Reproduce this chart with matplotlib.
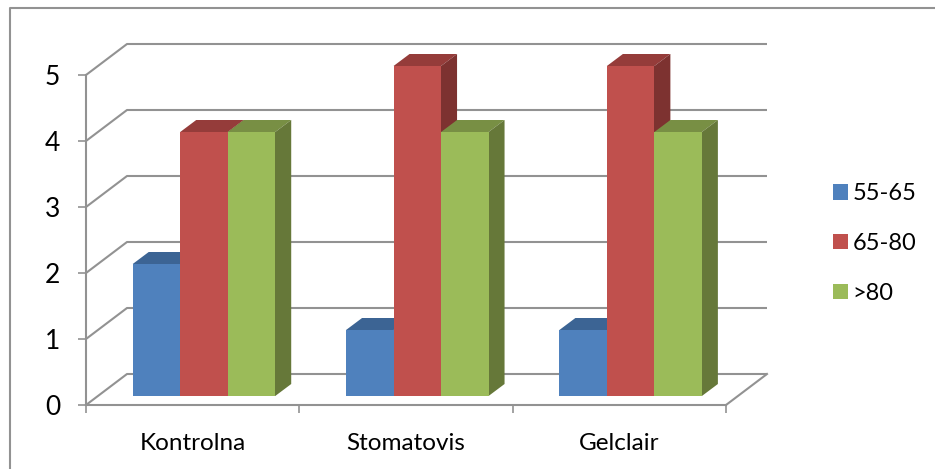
import numpy as np
import matplotlib
matplotlib.use('Agg')
import matplotlib.pyplot as plt
from matplotlib.patches import Patch, Polygon

plt.rcParams['font.family'] = ['Lato', 'DejaVu Sans']

# Datos
categorias = ['Kontrolna', 'Stomatovis', 'Gelclair']
grupos = ['55-65', '65-80', '>80']
v_55_65 = [2, 1, 1]
v_65_80 = [4, 5, 5]
v_mayor_80 = [4, 4, 4]
y_ticks = [0, 1, 2, 3, 4, 5]

W, H = 935, 469
UX = 640 / 3      # pixeles por categoria
UY = 330 / 5      # pixeles por unidad de y

# Colores cara frontal, techo, lateral
colores = [('#4F81BD', '#3C6494', '#32547C'),
           ('#C0504D', '#953C3A', '#7D3230'),
           ('#9BBB59', '#788F44', '#667839')]
color_linea = '#929292'

fig = plt.figure(figsize=(W / 100, H / 100), dpi=100)
ax = fig.add_axes([86 / W, (H - 405) / H, 640 / W, 330 / H])
ax.set_xlim(0, 3)
ax.set_ylim(0, 5)
ax.patch.set_alpha(0)

# Profundidad del piso y de la barra, en unidades de datos
fondo_x, fondo_y = 41 / UX, 31 / UY
prof_x, prof_y = 16 / UX, 12 / UY
base_x, base_y = 11.3 / UX, 9 / UY
ancho = 47.5 / UX
solape = 1 / UX   # las caras laterales entran bajo la frontal

# Rejilla de la pared trasera
for t in y_ticks:
    ax.plot([0, fondo_x, 3 + fondo_x], [t, t + fondo_y, t + fondo_y],
            color=color_linea, lw=1.5, clip_on=False, zorder=1, solid_capstyle='butt')
ax.plot([3, 3 + fondo_x], [0, fondo_y], color=color_linea, lw=1.5, clip_on=False, zorder=1)

# Barras con su falsa profundidad
x = np.arange(3) + 0.5 + base_x
for i, (valores, c) in enumerate(zip([v_55_65, v_65_80, v_mayor_80], colores)):
    xs = x + (i - 1) * ancho
    ax.bar(xs, valores, ancho, bottom=base_y, color=c[0], zorder=3 + i * 2, clip_on=False)
    for xc, v in zip(xs, valores):
        x0, x1 = xc - ancho / 2, xc + ancho / 2
        y0, y1 = base_y, base_y + v
        ax.add_patch(Polygon([(x0, y1), (x1, y1), (x1 + prof_x, y1 + prof_y), (x0 + prof_x, y1 + prof_y)],
                             facecolor=c[1], lw=0, zorder=2 + i * 2, clip_on=False))
        ax.add_patch(Polygon([(x1 - solape, y0), (x1 - solape, y1), (x1, y1), (x1 + prof_x, y1 + prof_y),
                              (x1 + prof_x, y0 + prof_y), (x1, y0)],
                             facecolor=c[2], lw=0, zorder=2 + i * 2, clip_on=False))

# Ejes
for s in ['top', 'right']:
    ax.spines[s].set_visible(False)
for s in ['left', 'bottom']:
    ax.spines[s].set_color(color_linea)
    ax.spines[s].set_linewidth(1.5)
ax.set_yticks(y_ticks)
ax.set_xticks([0, 1, 2, 3])
ax.set_xticks([0.5, 1.5, 2.5], minor=True)
ax.set_xticklabels([])
ax.set_xticklabels(categorias, minor=True)
ax.tick_params(axis='x', which='major', length=6, width=1.2, color=color_linea)
ax.tick_params(axis='x', which='minor', length=0, pad=20.5, labelsize=17.5)
ax.tick_params(axis='y', length=6, width=1.2, color=color_linea, pad=12.5, labelsize=19)

# Leyenda
handles = [Patch(facecolor=c[0], label=g) for c, g in zip(colores, grupos)]
fig.legend(handles=handles, loc='upper left', bbox_to_anchor=(833 / W, (H - 183) / H),
           frameon=False, fontsize=17, borderpad=0, borderaxespad=0,
           handlelength=0.64, handleheight=0.64, handletextpad=0.2, labelspacing=1.22)

# Marco exterior, cortado por la imagen
fig.add_artist(plt.Line2D([10 / W, 10 / W, 1], [0, (H - 8) / H, (H - 8) / H],
                          color=color_linea, lw=1.5))

fig.savefig('out.png', dpi=100)
